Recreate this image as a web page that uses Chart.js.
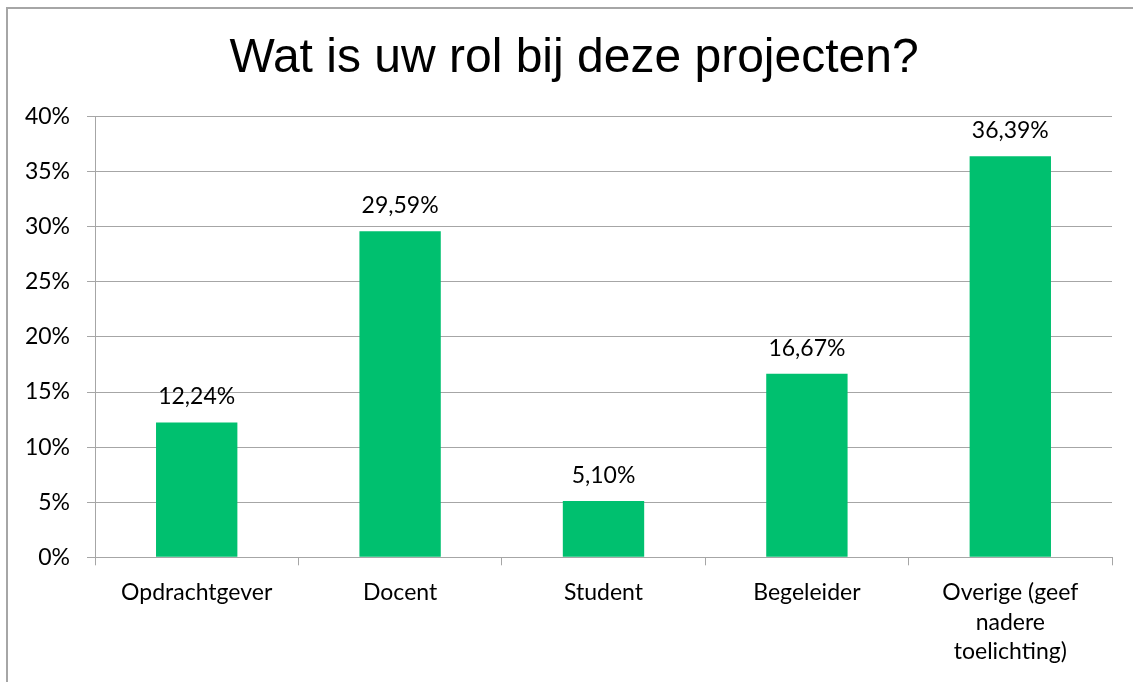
<!DOCTYPE html>
<html>
<head>
<meta charset="utf-8">
<script src="https://cdn.jsdelivr.net/npm/chart.js@4"></script>
<style>
  html, body { margin: 0; padding: 0; background: #fff; }
  #wrap { width: 1133px; height: 682px; position: relative; }
</style>
</head>
<body>
<div id="wrap"><canvas id="rolChart" width="1133" height="682"></canvas></div>
<script>
const categories = ['Opdrachtgever', 'Docent', 'Student', 'Begeleider', ['Overige (geef', 'nadere', 'toelichting)']];
const shares = [12.24, 29.59, 5.10, 16.67, 36.39];
const yTicks = [0, 5, 10, 15, 20, 25, 30, 35, 40];

const fmt = v => v.toFixed(2).replace('.', ',') + '%';
const tickFont = 'Lato, "Open Sans", sans-serif';

// frame around the whole chart + value labels above bars
const extras = {
    id: 'extras',
    afterLayout(chart) {
        // title sits a little right of the canvas centre in the original
        if (chart.titleBlock) chart.titleBlock.left += 14;
    },
    beforeDraw(chart) {
        const c = chart.ctx;
        c.save();
        c.strokeStyle = '#a6a6a6';
        c.lineWidth = 2;
        c.strokeRect(7, 8, 1140, 690);
        c.restore();
    },
    afterDatasetsDraw(chart) {
        const c = chart.ctx;
        const meta = chart.getDatasetMeta(0);
        c.save();
        c.font = '23px ' + tickFont;
        c.fillStyle = '#000';
        c.textAlign = 'center';
        c.textBaseline = 'alphabetic';
        meta.data.forEach((bar, i) => {
            c.fillText(fmt(shares[i]), bar.x, bar.y - 18);
        });
        c.restore();
    }
};

new Chart(document.getElementById('rolChart'), {
    type: 'bar',
    data: {
        labels: categories,
        datasets: [{
            data: shares,
            backgroundColor: '#00c06f',
            barPercentage: 0.4,
            categoryPercentage: 1
        }]
    },
    options: {
        responsive: false,
        animation: false,
        layout: { padding: { left: 22, right: 21, top: 0, bottom: 3 } },
        plugins: {
            legend: { display: false },
            tooltip: { enabled: false },
            title: {
                display: true,
                text: 'Wat is uw rol bij deze projecten?',
                color: '#000',
                font: { family: '"Liberation Sans", Arial, sans-serif', size: 48, weight: 'normal', lineHeight: 1.2 },
                padding: { top: 30, bottom: 29 }
            }
        },
        scales: {
            x: {
                grid: { display: true, drawOnChartArea: false, color: '#a6a6a6', tickLength: 8, offset: true },
                border: { color: '#a6a6a6', width: 1 },
                ticks: {
                    color: '#000',
                    font: { family: tickFont, size: 23, lineHeight: 1.3 },
                    maxRotation: 0,
                    autoSkip: false,
                    padding: 12
                }
            },
            y: {
                min: 0,
                max: 40,
                afterBuildTicks(axis) { axis.ticks = yTicks.map(v => ({ value: v })); },
                afterFit(axis) { axis.width = 73; },
                grid: { color: '#a6a6a6', tickLength: 8 },
                border: { color: '#a6a6a6', width: 1 },
                ticks: {
                    color: '#000',
                    font: { family: tickFont, size: 23 },
                    padding: 17,
                    callback: v => v + '%'
                }
            }
        }
    },
    plugins: [extras]
});
</script>
</body>
</html>
